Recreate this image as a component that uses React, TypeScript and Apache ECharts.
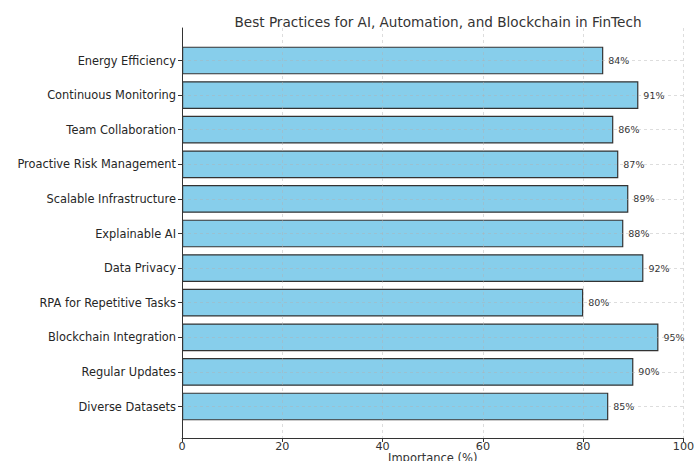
import React, { useEffect, useRef } from "react";
import * as echarts from "echarts";

const categories = [
  "Diverse Datasets",
  "Regular Updates",
  "Blockchain Integration",
  "RPA for Repetitive Tasks",
  "Data Privacy",
  "Explainable AI",
  "Scalable Infrastructure",
  "Proactive Risk Management",
  "Team Collaboration",
  "Continuous Monitoring",
  "Energy Efficiency",
];
const importance = [85, 90, 95, 80, 92, 88, 89, 87, 86, 91, 84];
const xTicks = { min: 0, max: 100, interval: 20 };

const FONT = "DejaVu Sans";
const gridLine = { color: "rgba(176,176,176,0.55)", type: [3, 3] as any, width: 0.8 };

export default function App() {
  const ref = useRef<HTMLDivElement>(null);
  useEffect(() => {
    document.body.style.margin = "0";
    if (!ref.current) return;
    const chart = echarts.init(ref.current, null, { renderer: "svg" });
    chart.setOption({
      animation: false,
      backgroundColor: "#ffffff",
      textStyle: { fontFamily: FONT },
      title: {
        text: "Best Practices for AI, Automation, and Blockchain in FinTech",
        left: 433,
        textAlign: "center",
        top: 10,
        textStyle: { fontSize: 13.6, fontWeight: "normal", color: "#333", fontFamily: FONT },
      },
      grid: [
        { left: 182, right: 12.5, top: 28, bottom: 23, containLabel: false, outerBoundsMode: "none" },
        { left: 182, right: 12.5, top: 60.5, bottom: 54.5, containLabel: false, outerBoundsMode: "none" },
      ],
      xAxis: [
        {
          gridIndex: 0,
          type: "value",
          min: xTicks.min,
          max: xTicks.max,
          interval: xTicks.interval,
          z: 5,
          name: "Importance (%)",
          nameLocation: "middle",
          nameGap: 14,
          nameMoveOverlap: false,
          nameTextStyle: { fontSize: 11.5, color: "#333", fontFamily: FONT },
          axisLine: { show: true, onZero: false, lineStyle: { color: "#333", width: 1 } },
          axisTick: { show: true, length: 4, lineStyle: { color: "#333" } },
          axisLabel: { fontSize: 11.2, color: "#333", margin: 3, fontFamily: FONT },
          splitLine: { show: true, lineStyle: gridLine },
        },
        {
          gridIndex: 1,
          type: "value",
          min: xTicks.min,
          max: xTicks.max,
          show: false,
        },
      ],
      yAxis: [
        {
          gridIndex: 0,
          type: "value",
          min: 0,
          max: 1,
          z: 5,
          axisLine: { show: true, onZero: false, lineStyle: { color: "#333", width: 1 } },
          axisTick: { show: false },
          axisLabel: { show: false },
          splitLine: { show: false },
        },
        {
          gridIndex: 1,
          type: "category",
          data: categories,
          boundaryGap: false,
          z: 5,
          axisLine: { show: false },
          axisTick: { show: true, length: 4, lineStyle: { color: "#333" } },
          axisLabel: { fontSize: 11.4, color: "#262626", margin: 6, fontFamily: FONT },
          splitLine: { show: true, lineStyle: gridLine },
        },
      ],
      series: [
        {
          type: "bar",
          xAxisIndex: 1,
          yAxisIndex: 1,
          data: importance,
          barWidth: "80%",
          clip: false,
          itemStyle: { color: "#87CEEB", borderColor: "#333", borderWidth: 1.2 },
          label: {
            show: true,
            position: "right",
            distance: 5,
            formatter: "{c}%",
            fontSize: 9.5,
            color: "#333",
            fontFamily: FONT,
          },
        },
      ],
    });
    return () => chart.dispose();
  }, []);
  return <div ref={ref} style={{ width: 696, height: 461 }} />;
}
